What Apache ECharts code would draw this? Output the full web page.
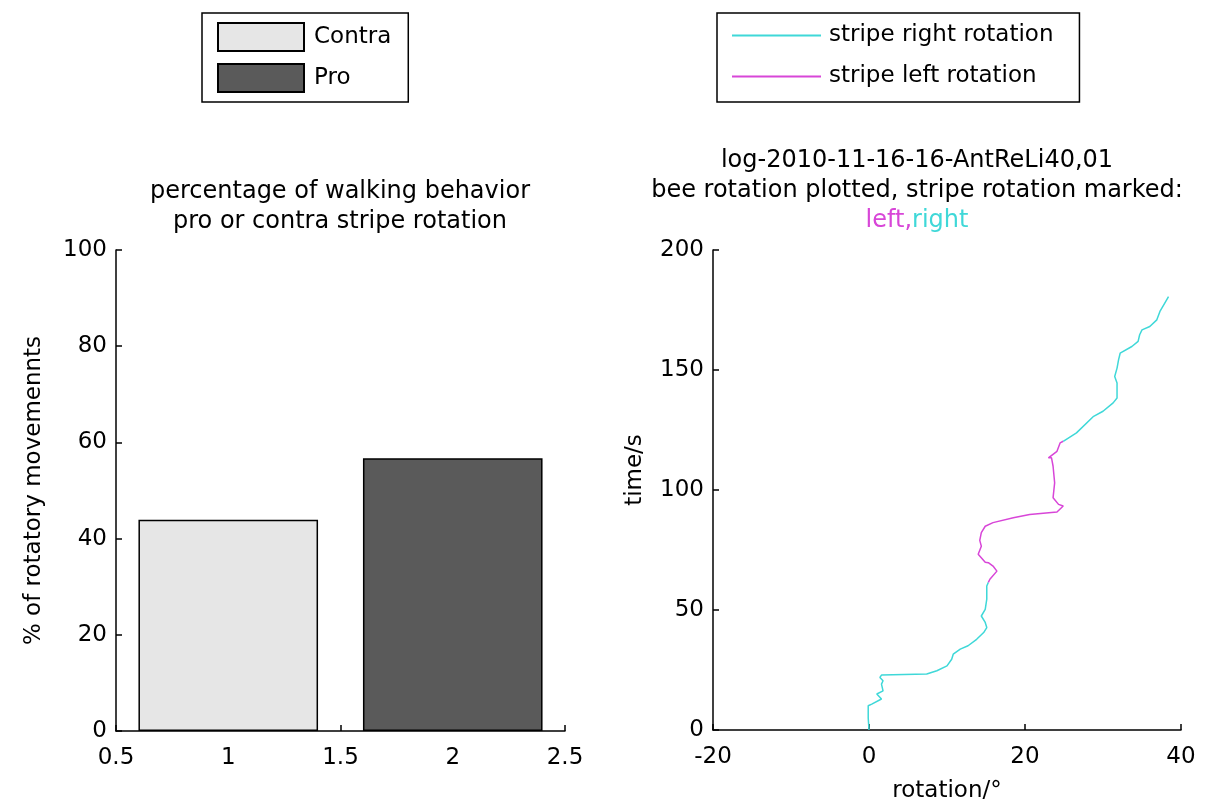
<!DOCTYPE html>
<html>
<head>
<meta charset="utf-8">
<script src="https://cdn.jsdelivr.net/npm/echarts@6/dist/echarts.min.js"></script>
<style>
html,body{margin:0;padding:0;background:#fff;}
#c{width:1210px;height:808px;}
</style>
</head>
<body>
<div id="c"></div>
<script>
// ---- data ----
const barNames = ['Contra', 'Pro'];
const barX = [1, 2];
const barValues = [43.9, 56.7];
const barColors = ['#e6e6e6', '#5a5a5a'];

// bee rotation [rotation deg, time s]
const rightSeg1 = [
  [0, 0], [-0.1, 5], [-0.1, 10.1], [0.35, 10.8], [1.6, 12.9], [1.0, 15.0], [1.8, 16.3],
  [1.6, 19.1], [1.8, 20.5], [1.4, 21.9], [1.6, 22.9], [4.5, 23.1], [7.4, 23.3],
  [8.7, 24.7], [10.0, 26.7], [10.6, 29.5], [10.8, 31.6], [11.7, 33.7], [12.7, 35.1],
  [13.8, 37.8], [14.7, 40.6], [15.1, 42.7], [14.9, 44.8], [14.4, 47.5], [14.9, 50.3],
  [15.1, 54.5], [15.1, 60.0], [15.3, 61.5]
];
const leftSeg = [
  [15.3, 61.5], [15.5, 62.8], [16.4, 66.2], [15.9, 68.3], [15.3, 69.7], [14.9, 69.9],
  [14.0, 73.2], [14.4, 76.6], [14.2, 79.0], [14.4, 82.2], [14.9, 84.9], [15.9, 86.4],
  [18.5, 88.4], [20.6, 89.8], [24.1, 90.8], [24.9, 93.3], [24.3, 94.0], [23.6, 96.8],
  [23.8, 103.0], [23.6, 109.9], [23.4, 113.4], [23.0, 113.4], [24.1, 116.1],
  [24.5, 119.6], [24.9, 120.3]
];
const rightSeg2 = [
  [24.9, 120.3], [26.6, 123.8], [28.8, 130.7], [30.0, 132.8], [31.3, 136.3],
  [31.8, 138.3], [31.8, 144.6], [31.5, 147.3], [31.8, 150.8], [32.0, 154.3],
  [32.2, 157.0], [33.7, 159.8], [34.5, 161.9], [34.7, 164.7], [35.0, 166.7],
  [36.0, 168.1], [36.9, 170.9], [37.3, 174.4], [37.9, 177.8], [38.4, 180.6]
];
const lineNames = ['stripe right rotation', 'stripe left rotation'];
const cyan = '#3fd8d8';
const magenta = '#d846d8';

const leftTitle = 'percentage of walking behavior\npro or contra stripe rotation';
const rightTitle1 = 'log-2010-11-16-16-AntReLi40,01';
const rightTitle2 = 'bee rotation plotted, stripe rotation marked:';

const FONT = '"DejaVu Sans", "Liberation Sans", sans-serif';
const FS = 23;
const TFS = 24;

const axisCommon = {
  axisLine: { show: true, onZero: false, lineStyle: { color: '#000', width: 1.5 } },
  axisTick: { show: true, inside: true, length: 6, lineStyle: { color: '#000', width: 1.5 } },
  splitLine: { show: false },
  axisLabel: { color: '#000', fontSize: FS, fontFamily: FONT },
  nameTextStyle: { color: '#000', fontSize: FS, fontFamily: FONT }
};

const chart = echarts.init(document.getElementById('c'));
chart.setOption({
  animation: false,
  backgroundColor: '#fff',
  textStyle: { fontFamily: FONT },
  title: [
    {
      text: leftTitle, left: 335, top: 172, textAlign: 'center',
      textStyle: { fontSize: TFS, fontWeight: 'normal', color: '#000', fontFamily: FONT, lineHeight: 30 }
    },
    {
      text: rightTitle1 + '\n' + rightTitle2 + '\n{l|left,}{r|right}', left: 912, top: 141, textAlign: 'center',
      textStyle: {
        fontSize: TFS, fontWeight: 'normal', color: '#000', fontFamily: FONT, lineHeight: 30,
        rich: {
          l: { color: magenta, fontSize: TFS, fontFamily: FONT, lineHeight: 30 },
          r: { color: cyan, fontSize: TFS, fontFamily: FONT, lineHeight: 30 }
        }
      }
    }
  ],
  legend: [
    {
      data: barNames, orient: 'vertical', left: 202, top: 13,
      padding: [9, 17, 9, 15], itemWidth: 86, itemHeight: 28, itemGap: 11,
      borderColor: '#000', borderWidth: 1.5, icon: 'rect',
      textStyle: { fontSize: FS, color: '#000', fontFamily: FONT, padding: [0, 0, 0, 5] },
      selectedMode: false
    },
    {
      data: lineNames, orient: 'vertical', left: 717, top: 13,
      padding: [11, 26, 14, 15], itemWidth: 89, itemHeight: 28, itemGap: 18,
      borderColor: '#000', borderWidth: 1.5,
      icon: 'path://M0,13 L89,13 L89,15 L0,15 Z',
      textStyle: { fontSize: FS, color: '#000', fontFamily: FONT, padding: [0, 0, 0, 3] },
      selectedMode: false
    }
  ],
  grid: [
    { left: 116, width: 449, top: 250, height: 481 },
    { left: 713, width: 468, top: 250, height: 481 }
  ],
  xAxis: [
    Object.assign({}, axisCommon, {
      type: 'value', gridIndex: 0, min: 0.5, max: 2.5, interval: 0.5,
      axisLabel: Object.assign({}, axisCommon.axisLabel, { margin: 16 })
    }),
    Object.assign({}, axisCommon, {
      type: 'value', gridIndex: 1, min: -20, max: 40, interval: 20,
      name: 'rotation/°', nameLocation: 'middle', nameGap: 50,
      axisLabel: Object.assign({}, axisCommon.axisLabel, { margin: 16 })
    })
  ],
  yAxis: [
    Object.assign({}, axisCommon, {
      type: 'value', gridIndex: 0, min: 0, max: 100, interval: 20,
      name: '% of rotatory movemennts', nameLocation: 'middle', nameGap: 70,
      axisLabel: Object.assign({}, axisCommon.axisLabel, { margin: 9 })
    }),
    Object.assign({}, axisCommon, {
      type: 'value', gridIndex: 1, min: 0, max: 200, interval: 50,
      name: 'time/s', nameLocation: 'middle', nameGap: 66,
      nameTextStyle: Object.assign({}, axisCommon.nameTextStyle, { padding: [0, 0, 0, 40] }),
      axisLabel: Object.assign({}, axisCommon.axisLabel, { margin: 9 })
    })
  ],
  series: [
    {
      name: barNames[0], type: 'bar', xAxisIndex: 0, yAxisIndex: 0,
      data: [[barX[0], barValues[0]]], barWidth: 179.6, barGap: '-100%',
      itemStyle: { color: barColors[0], borderColor: '#000', borderWidth: 1.5 }
    },
    {
      name: barNames[1], type: 'bar', xAxisIndex: 0, yAxisIndex: 0,
      data: [[barX[1], barValues[1]]], barWidth: 179.6, barGap: '-100%',
      itemStyle: { color: barColors[1], borderColor: '#000', borderWidth: 1.5 }
    },
    {
      name: lineNames[0], type: 'line', xAxisIndex: 1, yAxisIndex: 1,
      data: rightSeg1, showSymbol: false, symbol: 'none',
      lineStyle: { color: cyan, width: 1.5 }, itemStyle: { color: cyan }
    },
    {
      name: lineNames[1], type: 'line', xAxisIndex: 1, yAxisIndex: 1,
      data: leftSeg, showSymbol: false, symbol: 'none',
      lineStyle: { color: magenta, width: 1.5 }, itemStyle: { color: magenta }
    },
    {
      name: lineNames[0], type: 'line', xAxisIndex: 1, yAxisIndex: 1,
      data: rightSeg2, showSymbol: false, symbol: 'none',
      lineStyle: { color: cyan, width: 1.5 }, itemStyle: { color: cyan }
    }
  ]
});
</script>
</body>
</html>
